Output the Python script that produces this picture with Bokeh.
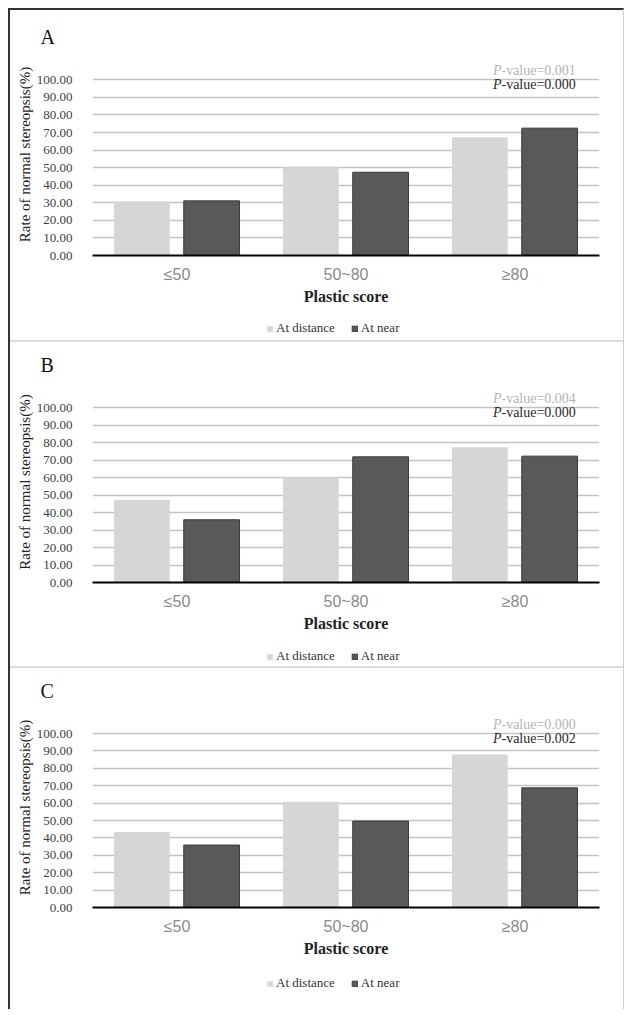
from bokeh.plotting import figure
from bokeh.layouts import column
from bokeh.models import (ColumnDataSource, FactorRange, Range1d, FixedTicker,
                          PrintfTickFormatter, Legend, LegendItem, Label)
from bokeh.transform import dodge
from bokeh.embed import file_html
from bokeh.resources import INLINE

categories = ["≤50", "50~80", "≥80"]
panel_names = ["A", "B", "C"]
series_names = ["At distance", "At near"]

dist_A = [30.7, 50.2, 67.3]
near_A = [31.1, 47.4, 72.5]
dist_B = [47.2, 60.2, 77.4]
near_B = [35.9, 71.9, 72.3]
dist_C = [43.4, 60.8, 88.0]
near_C = [35.9, 49.7, 68.8]

p_dist = ["0.001", "0.004", "0.000"]
p_near = ["0.000", "0.000", "0.002"]

y_ticks = [0, 10, 20, 30, 40, 50, 60, 70, 80, 90, 100]

SERIF = "Liberation Serif"
SANS = "Liberation Sans"
DIST_COLOR = "#d6d6d6"
NEAR_COLOR = "#595959"
NEAR_LINE = "#3a3a3a"
SEP = "2px solid #dcdcdc"

# per panel: (chart height, min_border_top, min_border_bottom, legend strip height,
#             legend y offset, top separator)
layouts = [(302, 43, 57, 28, 4, None),
           (298, 39, 58, 28, 2, SEP),
           (298, 39, 59, 45, 18, SEP)]
dist_all = [dist_A, dist_B, dist_C]
near_all = [near_A, near_B, near_C]


def bars(fig, src):
    r1 = fig.vbar(x=dodge("cat", -0.208, range=fig.x_range), top="dist", width=0.33,
                  source=src, fill_color=DIST_COLOR, line_color=None)
    r2 = fig.vbar(x=dodge("cat", 0.205, range=fig.x_range), top="near", width=0.33,
                  source=src, fill_color=NEAR_COLOR, line_color=NEAR_LINE, line_width=1)
    return r1, r2


items = []
for i in range(3):
    h, bt, bb, lh, ly, sep = layouts[i]
    src = ColumnDataSource(dict(cat=categories, dist=dist_all[i], near=near_all[i]))
    p = figure(x_range=FactorRange(*categories), y_range=Range1d(0, 115),
               width=613, height=h, output_backend="svg", toolbar_location=None,
               min_border_left=82, min_border_right=24, min_border_top=bt,
               min_border_bottom=bb)
    if sep:
        p.styles = {"border-top": sep}
    p.outline_line_color = None
    p.xgrid.grid_line_color = None
    p.ygrid.grid_line_color = "#c4c4c4"
    p.ygrid.grid_line_width = 1.5

    p.title.text = panel_names[i]
    p.title.text_font = SERIF
    p.title.text_font_size = "20px"
    p.title.text_font_style = "normal"
    p.title.text_color = "#111111"
    p.title.align = "left"
    p.title.offset = -52
    p.title.standoff = 11

    bars(p, src)

    # y axis
    yax = p.yaxis[0]
    yax.ticker = FixedTicker(ticks=y_ticks)
    yax.formatter = PrintfTickFormatter(format="%.2f")
    yax.axis_line_color = None
    yax.major_tick_line_color = None
    yax.minor_tick_line_color = None
    yax.major_label_standoff = 14
    yax.major_label_text_font = SERIF
    yax.major_label_text_font_size = "13px"
    yax.major_label_text_color = "#404040"
    yax.axis_label = "Rate of normal stereopsis(%)"
    yax.axis_label_text_font = SERIF
    yax.axis_label_text_font_size = "15px"
    yax.axis_label_text_font_style = "normal"
    yax.axis_label_text_color = "#222222"
    yax.axis_label_standoff = 1

    # x axis
    xax = p.xaxis[0]
    xax.axis_line_color = "black"
    xax.axis_line_width = 2
    xax.major_tick_line_color = None
    xax.minor_tick_line_color = None
    xax.major_label_standoff = 4
    xax.major_label_text_font = SANS
    xax.major_label_text_font_size = "16px"
    xax.major_label_text_color = "#8a8a8a"
    xax.axis_label = "Plastic score"
    xax.axis_label_text_font = SERIF
    xax.axis_label_text_font_size = "16px"
    xax.axis_label_text_font_style = "bold"
    xax.axis_label_text_color = "#222222"
    xax.axis_label_standoff = 2

    # p-values
    for yv, val, col in [(105.5, p_dist[i], "#b5b5b5"), (97.2, p_near[i], "#2a2a2a")]:
        p.add_layout(Label(x=2.42, y=yv, text="P", text_font=SERIF, text_font_size="14px",
                           text_font_style="italic", text_align="right",
                           text_baseline="middle", text_color=col))
        p.add_layout(Label(x=2.42, y=yv, text="-value=" + val, text_font=SERIF,
                           text_font_size="14px", text_align="left",
                           text_baseline="middle", text_color=col))
    items.append(p)

    # legend strip: its own small figure; hidden copies of the bars give the swatches
    lf = figure(width=613, height=lh, x_range=FactorRange(*categories),
                y_range=Range1d(0, 115), output_backend="svg", toolbar_location=None,
                x_axis_type=None, y_axis_type=None, min_border=0)
    lf.outline_line_color = None
    lf.grid.grid_line_color = None
    g1, g2 = bars(lf, src)
    g1.visible = False
    g2.visible = False
    legend = Legend(items=[LegendItem(label=series_names[0], renderers=[g1]),
                           LegendItem(label=series_names[1], renderers=[g2])],
                    orientation="horizontal", location=(174, ly))
    legend.label_text_font = SERIF
    legend.label_text_font_size = "13px"
    legend.label_text_color = "#333333"
    legend.glyph_width = 7
    legend.glyph_height = 7
    legend.label_standoff = 3
    legend.spacing = 16
    legend.padding = 3
    legend.margin = 0
    legend.border_line_color = None
    legend.background_fill_alpha = 0
    legend.inactive_fill_alpha = 0
    lf.add_layout(legend, "center")
    items.append(lf)

layout = column(*items, spacing=0,
                styles={"margin-left": "8px", "margin-top": "8px",
                        "border-left": "2px solid #333333", "border-top": "2px solid #333333",
                        "border-right": "1px solid #d0d0d0"})

open("out.html", "w").write(file_html(layout, INLINE))
